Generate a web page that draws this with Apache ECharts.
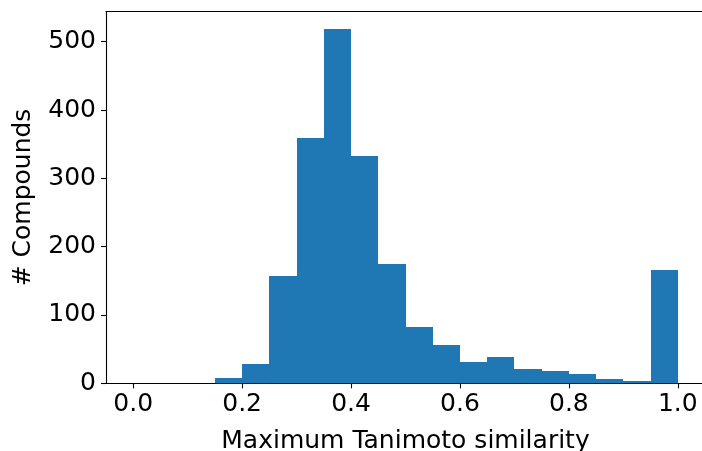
<!DOCTYPE html>
<html>
<head>
<meta charset="utf-8">
<script src="https://cdn.jsdelivr.net/npm/echarts@6/dist/echarts.min.js"></script>
<style>
html,body{margin:0;padding:0;background:#fff;}
#chart{width:702px;height:451px;}
</style>
</head>
<body>
<div id="chart"></div>
<script>
// Histogram bins (left edges), width 0.05
const binStarts = [0.00,0.05,0.10,0.15,0.20,0.25,0.30,0.35,0.40,0.45,0.50,0.55,0.60,0.65,0.70,0.75,0.80,0.85,0.90,0.95];
const binWidth = 0.05;
const counts = [0,0,0,8,28,157,359,518,333,175,82,56,31,38,21,18,14,6,3,166];
const xTicks = [0.0,0.2,0.4,0.6,0.8,1.0];
const yTicks = [0,100,200,300,400,500];

const data = binStarts.map((s,i)=>[s, s+binWidth, counts[i]]);
const font = 'DejaVu Sans';
const chart = echarts.init(document.getElementById('chart'), null, {renderer:'canvas'});
chart.setOption({
  animation:false,
  backgroundColor:'#fff',
  grid:{left:106, right:-3, top:11.7, bottom:67.7, containLabel:false, outerBoundsMode:'none'},
  xAxis:[{
    type:'value', min:-0.05, max:1.05,
    name:'Maximum Tanimoto similarity', nameLocation:'middle', nameGap:46,
    nameTextStyle:{fontFamily:font, fontSize:25, color:'#000'},
    axisLine:{show:true, onZero:false, lineStyle:{color:'#000', width:1.1}},
    axisTick:{show:true, length:5, lineStyle:{color:'#000', width:1.1}, customValues:xTicks},
    axisLabel:{fontFamily:font, fontSize:25, color:'#000', margin:9, customValues:xTicks,
      formatter:v=>Number(v).toFixed(1)},
    splitLine:{show:false}
  },{
    type:'value', position:'top', min:-0.05, max:1.05,
    axisLine:{show:true, onZero:false, lineStyle:{color:'#000', width:1.1}},
    axisTick:{show:false}, axisLabel:{show:false}, splitLine:{show:false}
  }],
  yAxis:[{
    type:'value', min:0, max:518*1.05,
    name:'# Compounds', nameLocation:'middle', nameGap:70,
    nameTextStyle:{fontFamily:font, fontSize:25, color:'#000'},
    axisLine:{show:true, onZero:false, lineStyle:{color:'#000', width:1.1}},
    axisTick:{show:true, length:5, lineStyle:{color:'#000', width:1.1}, customValues:yTicks},
    axisLabel:{fontFamily:font, fontSize:25, color:'#000', margin:10, customValues:yTicks},
    splitLine:{show:false}
  }],
  series:[{
    type:'custom',
    xAxisIndex:0, yAxisIndex:0,
    data:data,
    encode:{x:[0,1], y:2},
    z:1,
    renderItem:function(params, api){
      const p0 = api.coord([api.value(0), 0]);
      const p1 = api.coord([api.value(1), api.value(2)]);
      const x0 = Math.round(p0[0]), x1 = Math.round(p1[0]);
      const yb = p0[1], yt = Math.round(p1[1]);
      const h = yb - yt;
      if (api.value(2) <= 0) return null;
      return {
        type:'rect',
        shape:{x:x0, y:yt, width:x1-x0, height:h},
        style:{fill:'#1f77b4'}
      };
    }
  }]
});
</script>
</body>
</html>
